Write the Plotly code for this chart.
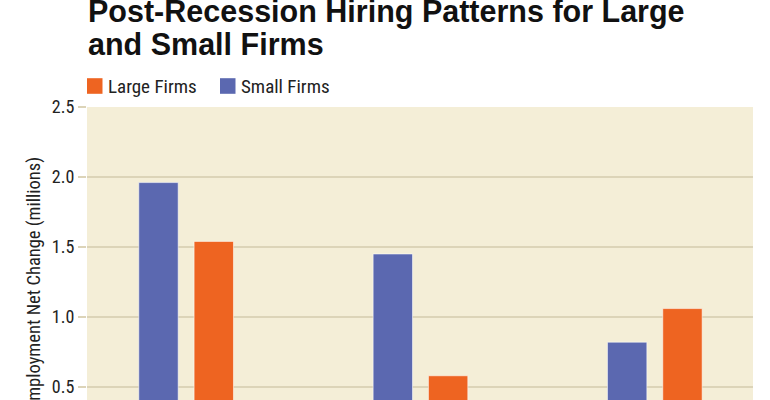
import plotly.graph_objects as go

# ---- data ----
categories = ["2010", "2011", "2012"]
small_firms = [1.96, 1.45, 0.82]
large_firms = [1.54, 0.58, 1.06]
series_names = ["Small Firms", "Large Firms"]
y_tick_vals = [0.5, 1.0, 1.5, 2.0, 2.5]
y_tick_text = ["0.5", "1.0", "1.5", "2.0", "2.5"]

BLUE = "#5b68b0"
ORANGE = "#ee6421"
BG = "#f4eed7"
GRID = "#dcd4b8"
TXT = "#222222"
COND = "Roboto Condensed, Liberation Sans Narrow, sans-serif"
BOLD = "Liberation Sans, Arial, sans-serif"

W, H = 770, 400
ML, MR, MT, MB = 87, 17, 107, 0
PH = H - MT - MB


def py(pix):
    """pixel y (from top) -> paper y"""
    return (H - MB - pix) / PH


def px(pix):
    return (pix - ML) / (W - ML - MR)


fig = go.Figure()
fig.add_trace(go.Bar(x=categories, y=small_firms, name=series_names[0],
                     marker=dict(color=BLUE, line=dict(color="rgba(255,255,255,0.55)", width=1)),
                     showlegend=False))
fig.add_trace(go.Bar(x=categories, y=large_firms, name=series_names[1],
                     marker=dict(color=ORANGE, line=dict(color="rgba(255,255,255,0.55)", width=1)),
                     showlegend=False))

annotations = [
    dict(text="<b>Post-Recession Hiring Patterns for Large</b>", x=px(86), y=py(31.5),
         xref="paper", yref="paper", xanchor="left", yanchor="bottom", showarrow=False,
         font=dict(family=BOLD, size=30.5, color="#111111")),
    dict(text="<b>and Small Firms</b>", x=px(86), y=py(62.5),
         xref="paper", yref="paper", xanchor="left", yanchor="bottom", showarrow=False,
         font=dict(family=BOLD, size=30.5, color="#111111")),
    dict(text="Employment Net Change (millions)", x=px(34), y=py(284),
         xref="paper", yref="paper", xanchor="center", yanchor="middle", textangle=-90,
         showarrow=False, font=dict(family=COND, size=18.5, color=TXT)),
]

# legend drawn by hand (Large first, then Small), matching the square keys of the original
legend_items = [(series_names[1], ORANGE, 87, 106), (series_names[0], BLUE, 220, 239)]
shapes = []
for name, col, sx, tx in legend_items:
    shapes.append(dict(type="rect", xref="paper", yref="paper", xsizemode="pixel", ysizemode="pixel",
                       xanchor=0, yanchor=py(86), x0=sx - ML, x1=sx - ML + 15.5, y0=-7.8, y1=7.8,
                       fillcolor=col, line=dict(width=0)))
    annotations.append(dict(text=name, x=px(tx), y=py(86), xref="paper", yref="paper",
                            xanchor="left", yanchor="middle", showarrow=False,
                            font=dict(family=COND, size=19, color=TXT)))

fig.update_layout(
    width=W, height=H,
    margin=dict(l=ML, r=MR, t=MT, b=MB, pad=0),
    paper_bgcolor="white", plot_bgcolor=BG,
    barmode="group", bargap=0.528, bargroupgap=0.288,
    annotations=annotations, shapes=shapes,
    showlegend=False,
    xaxis=dict(range=[-0.423, 2.419], showticklabels=False, showgrid=False, zeroline=False,
               ticks="", showline=False),
    yaxis=dict(range=[0.407, 2.5], tickvals=y_tick_vals, ticktext=y_tick_text,
               showgrid=True, gridcolor=GRID, gridwidth=1.5, zeroline=False,
               ticks="outside", ticklen=8, tickcolor=GRID, tickwidth=1.5,
               tickfont=dict(family=COND, size=18, color=TXT), showline=False),
)

fig.write_html("out.html", config={"displayModeBar": False},
               post_script="document.body.style.margin='0px';")
